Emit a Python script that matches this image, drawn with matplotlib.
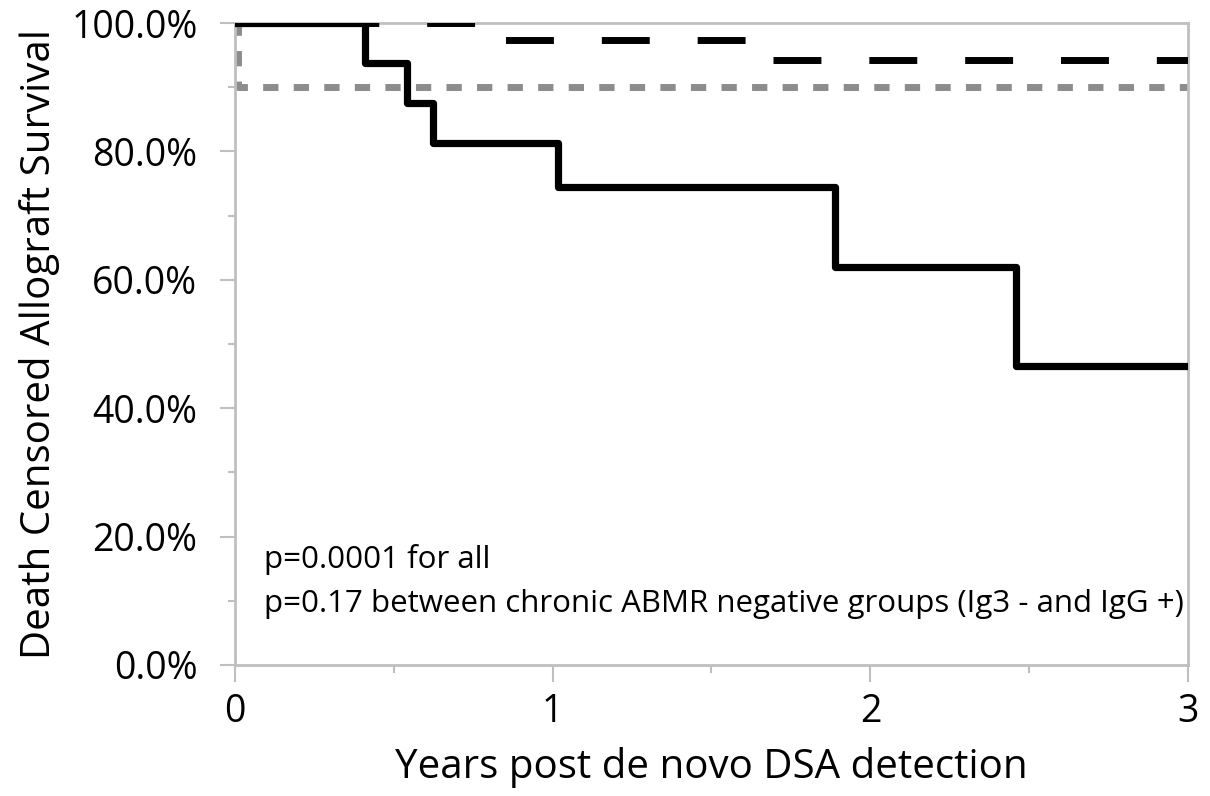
import matplotlib.pyplot as plt
from matplotlib.ticker import MultipleLocator, PercentFormatter

# step curves (years, survival %)
solid_t = [0, 0.41, 0.54, 0.622, 1.017, 1.89, 2.46, 3.0]
solid_s = [100, 93.75, 87.5, 81.25, 74.5, 62.0, 46.5, 46.5]

dash_t = [0, 0.82, 1.68, 3.0]
dash_s = [100, 97.4, 94.2, 94.2]

dot_t = [0, 0.01, 3.0]
dot_s = [100, 90.0, 90.0]

x_ticks = [0, 1, 2, 3]
y_ticks = [0, 20, 40, 60, 80, 100]

plt.rcParams['font.family'] = ['Open Sans', 'DejaVu Sans']

fig = plt.figure(figsize=(12.1, 7.96), dpi=100)
ax = fig.add_axes([0.1942, 0.1646, 0.7876, 0.8065])

ax.step(dot_t, dot_s, where='post', color='#8c8c8c', lw=5, dashes=(2.2, 2.2), zorder=2)
ax.step(dash_t, dash_s, where='post', color='black', lw=5, dashes=(6.9, 6.9), zorder=3)
ax.step(solid_t, solid_s, where='post', color='black', lw=5.2, zorder=4)

ax.set_xlim(0, 3)
ax.set_ylim(0, 100)
ax.set_xticks(x_ticks)
ax.set_yticks(y_ticks)
ax.xaxis.set_minor_locator(MultipleLocator(0.5))
ax.yaxis.set_minor_locator(MultipleLocator(10))
ax.yaxis.set_major_formatter(PercentFormatter(decimals=1))

for sp in ax.spines.values():
    sp.set_color('#bfbfbf')
    sp.set_linewidth(2)
ax.tick_params(axis='both', which='both', color='#bfbfbf', width=1.5, labelsize=27)
ax.tick_params(axis='x', which='major', direction='out', length=12, pad=8)
ax.tick_params(axis='x', which='minor', direction='out', length=6)
ax.tick_params(axis='y', which='major', direction='out', length=11, pad=16)
ax.tick_params(axis='y', which='minor', direction='out', length=5)

ax.set_xlabel('Years post de novo DSA detection', fontsize=29, labelpad=12)
ax.set_ylabel('Death Censored Allograft Survival', fontsize=29, labelpad=8)

ax.text(0.03, 0.165, 'p=0.0001 for all', transform=ax.transAxes, fontsize=22.5, va='center')
ax.text(0.03, 0.095, 'p=0.17 between chronic ABMR negative groups (Ig3 - and IgG +)',
        transform=ax.transAxes, fontsize=22.5, va='center')

fig.savefig('out.png', dpi=100)
